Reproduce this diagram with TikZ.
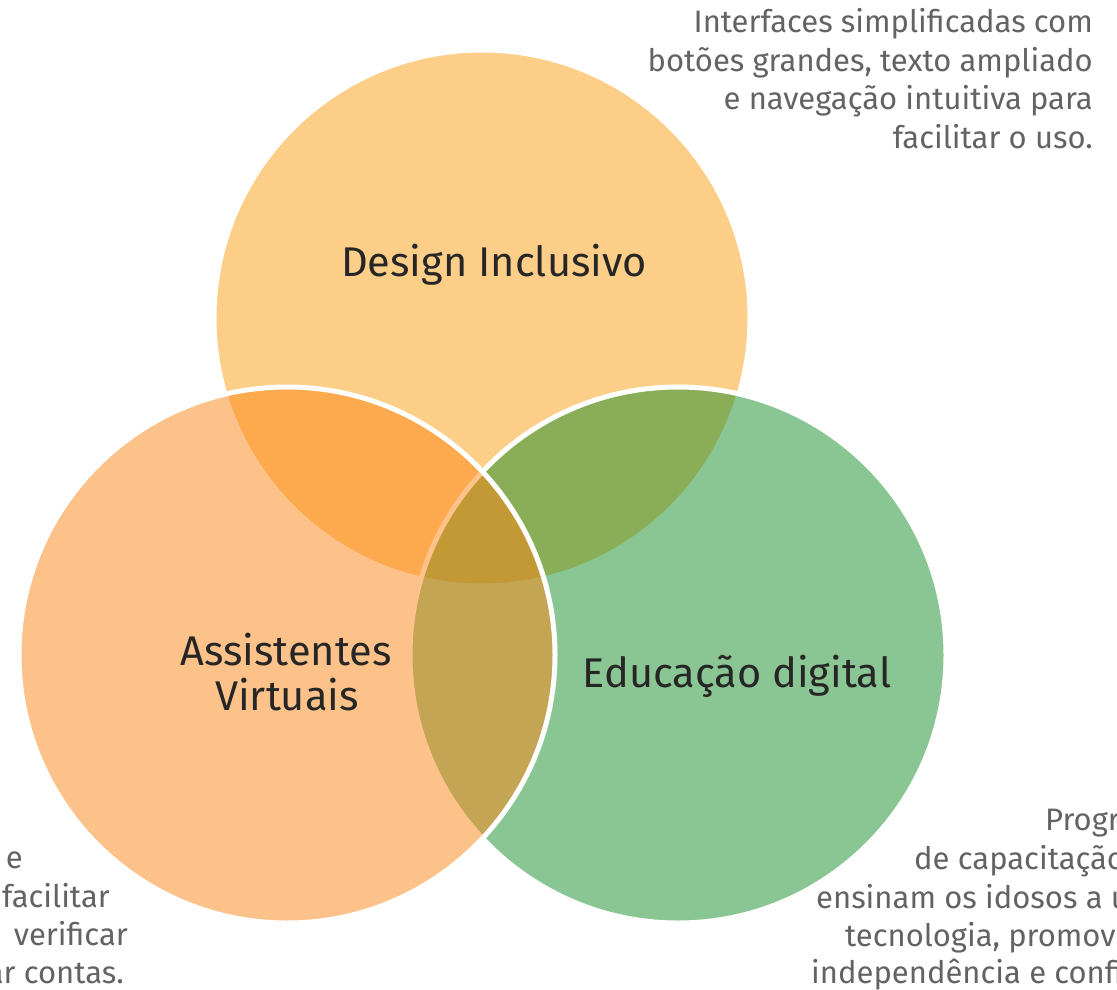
\documentclass[tikz,border=0pt]{standalone}
\usepackage{fontspec}
\setmainfont{Fira Sans}
\definecolor{topc}{HTML}{FD9F11}
\definecolor{leftc}{HTML}{FD8517}
\definecolor{rightc}{HTML}{178F29}
\definecolor{labelc}{HTML}{262626}
\definecolor{notec}{HTML}{636363}
\begin{document}
\begin{tikzpicture}[x=1pt,y=-1pt,
  venn/.style={circle, draw=white, line width=5pt, fill opacity=0.5, minimum size=536pt, inner sep=0pt, outer sep=0pt},
  biglabel/.style={text=labelc, font=\fontsize{41.5}{45}\selectfont, inner sep=0pt},
  note/.style={text=notec, font=\fontsize{31}{38}\selectfont, inner sep=0pt}]
\useasboundingbox (0,0) rectangle (1117,990);
\clip (0,0) rectangle (1117,990);
\fill[white] (0,0) rectangle (1117,990);
% circles
\node[venn, fill=topc] (top) at (482,318) {};
\node[venn, fill=rightc] (right) at (678,655) {};
\node[venn, fill=leftc] (left) at (287,655) {};
% labels
\node[biglabel, anchor=base] (ltop) at (494,276) {Design Inclusivo};
\node[biglabel, anchor=base] (lleft1) at (286,665) {Assistentes};
\node[biglabel, anchor=base] (lleft2) at (287,710) {Virtuais};
\node[biglabel, anchor=base] (lright) at (737,687) {Educação digital};
% top right note
\node[note, anchor=base east] (n1) at (1093,33) {Interfaces simplificadas com};
\node[note, anchor=base east] (n2) at (1093,71.5) {botões grandes, texto ampliado};
\node[note, anchor=base east] (n3) at (1093,110) {e navegação intuitiva para};
\node[note, anchor=base east] (n4) at (1093,148.5) {facilitar o uso.};
% bottom left note (cut by the edge)
\node[note, anchor=base east] (b1) at (23,868) {e};
\node[note, anchor=base east] (b2) at (110,907) {facilitar};
\node[note, anchor=base east] (b3) at (128,945) {verificar};
\node[note, anchor=base east] (b4) at (124,983) {pagar contas.};
% bottom right note (cut by the edge)
\node[note, anchor=base west] (r1) at (1045,830) {Programas};
\node[note, anchor=base west] (r2) at (914,869) {de capacitação};
\node[note, anchor=base west] (r3) at (816,908) {ensinam os idosos a usar};
\node[note, anchor=base west] (r4) at (845,946) {tecnologia, promovendo};
\node[note, anchor=base west] (r5) at (811,983) {independência e confiança};
\end{tikzpicture}
\end{document}
